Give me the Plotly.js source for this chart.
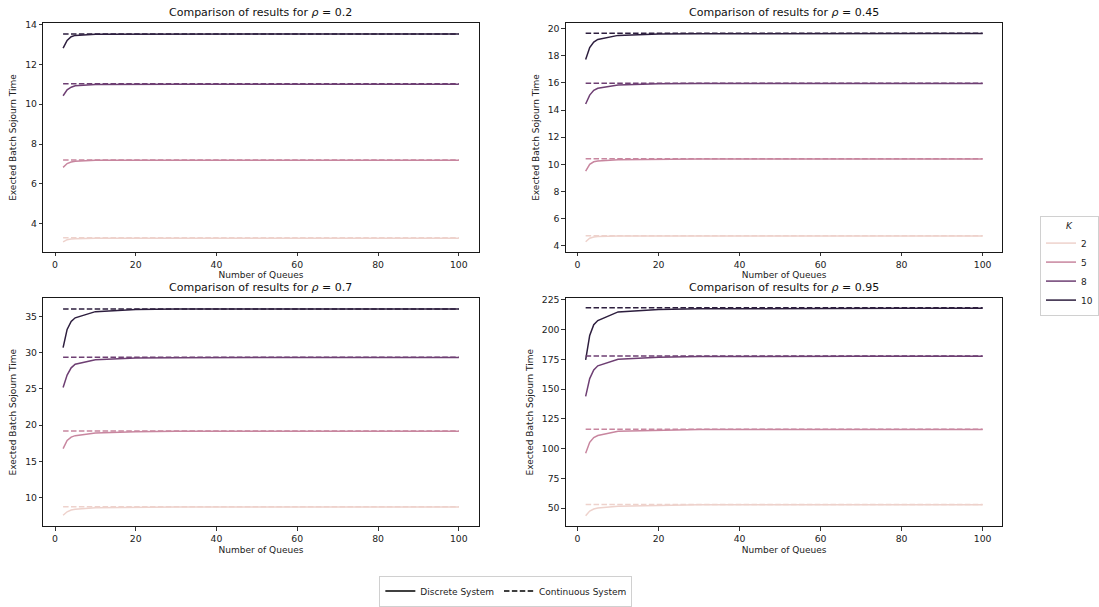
<!DOCTYPE html>
<html>
<head>
<meta charset="utf-8">
<script src="https://cdn.plot.ly/plotly-3.0.1.min.js"></script>
<style>html,body{margin:0;padding:0;background:#fff;}#chart{width:1099px;height:607px;}</style>
</head>
<body>
<div id="chart"></div>
<script>
// ---- data ----
const queues = [2, 3, 4, 5, 10, 20, 30, 40, 50, 60, 70, 80, 90, 100];
const kValues = [2, 5, 8, 10];
const rhoValues = ['0.2', '0.45', '0.7', '0.95'];

// discrete system, per rho, per K
const disc_rho02_K2  = [3.09, 3.20, 3.23, 3.25, 3.27, 3.27, 3.27, 3.27, 3.27, 3.27, 3.27, 3.27, 3.27, 3.27];
const disc_rho02_K5  = [6.83, 7.02, 7.10, 7.14, 7.18, 7.19, 7.19, 7.19, 7.19, 7.19, 7.19, 7.19, 7.19, 7.19];
const disc_rho02_K8  = [10.42, 10.72, 10.85, 10.92, 10.98, 11.00, 11.00, 11.00, 11.00, 11.00, 11.00, 11.00, 11.00, 11.00];
const disc_rho02_K10 = [12.81, 13.20, 13.38, 13.45, 13.51, 13.52, 13.52, 13.52, 13.52, 13.52, 13.52, 13.52, 13.52, 13.52];

const disc_rho045_K2  = [4.29, 4.55, 4.64, 4.68, 4.71, 4.72, 4.72, 4.72, 4.72, 4.72, 4.72, 4.72, 4.72, 4.72];
const disc_rho045_K5  = [9.49, 10.00, 10.18, 10.24, 10.34, 10.38, 10.39, 10.39, 10.39, 10.39, 10.39, 10.39, 10.39, 10.39];
const disc_rho045_K8  = [14.44, 15.10, 15.45, 15.60, 15.85, 15.93, 15.95, 15.95, 15.95, 15.95, 15.95, 15.95, 15.95, 15.95];
const disc_rho045_K10 = [17.72, 18.60, 19.00, 19.20, 19.50, 19.60, 19.62, 19.63, 19.63, 19.63, 19.63, 19.63, 19.63, 19.63];

const disc_rho07_K2  = [7.57, 8.05, 8.30, 8.40, 8.60, 8.68, 8.70, 8.70, 8.71, 8.71, 8.71, 8.71, 8.71, 8.71];
const disc_rho07_K5  = [16.76, 17.90, 18.35, 18.55, 18.90, 19.10, 19.15, 19.16, 19.17, 19.17, 19.17, 19.17, 19.17, 19.17];
const disc_rho07_K8  = [25.2, 26.9, 27.9, 28.4, 29.0, 29.25, 29.30, 29.32, 29.33, 29.33, 29.33, 29.33, 29.33, 29.33];
const disc_rho07_K10 = [30.7, 33.2, 34.3, 34.8, 35.65, 35.95, 36.00, 36.01, 36.02, 36.02, 36.02, 36.02, 36.02, 36.02];

const disc_rho095_K2  = [43.6, 47.5, 49.2, 50.0, 51.6, 52.4, 52.7, 52.8, 52.8, 52.8, 52.8, 52.8, 52.8, 52.8];
const disc_rho095_K5  = [96.1, 105.2, 109.3, 111.0, 114.6, 115.6, 116.0, 116.1, 116.1, 116.1, 116.1, 116.1, 116.1, 116.1];
const disc_rho095_K8  = [143.8, 158.8, 166.0, 169.5, 175.0, 176.8, 177.3, 177.5, 177.6, 177.6, 177.6, 177.6, 177.6, 177.6];
const disc_rho095_K10 = [174.5, 195.0, 204.0, 207.5, 214.8, 216.8, 217.4, 217.6, 217.8, 217.8, 217.8, 217.8, 217.8, 217.8];

// continuous system (constant in number of queues), per rho: K = 2, 5, 8, 10
const cont_rho02  = [3.30, 7.20, 11.02, 13.52];
const cont_rho045 = [4.73, 10.41, 15.97, 19.66];
const cont_rho07  = [8.73, 19.20, 29.37, 36.03];
const cont_rho095 = [53.0, 116.2, 177.8, 218.2];

// ---- style ----
const kColors = ['#eed2cc', '#c8869f', '#6e3f73', '#2d1e3e'];
const FONT = 'DejaVu Sans, sans-serif';

const discByRho = [
  [disc_rho02_K2, disc_rho02_K5, disc_rho02_K8, disc_rho02_K10],
  [disc_rho045_K2, disc_rho045_K5, disc_rho045_K8, disc_rho045_K10],
  [disc_rho07_K2, disc_rho07_K5, disc_rho07_K8, disc_rho07_K10],
  [disc_rho095_K2, disc_rho095_K5, disc_rho095_K8, disc_rho095_K10]
];
const contByRho = [cont_rho02, cont_rho045, cont_rho07, cont_rho095];

const axSuffix = ['', '2', '3', '4'];
const traces = [];
for (let p = 0; p < 4; p++) {
  for (let k = 0; k < kValues.length; k++) {
    traces.push({
      type: 'scatter', mode: 'lines', x: queues, y: discByRho[p][k],
      xaxis: 'x' + axSuffix[p], yaxis: 'y' + axSuffix[p],
      line: {color: kColors[k], width: 1.5}, showlegend: false, hoverinfo: 'x+y'
    });
  }
  for (let k = 0; k < kValues.length; k++) {
    traces.push({
      type: 'scatter', mode: 'lines', x: queues, y: queues.map(() => contByRho[p][k]),
      xaxis: 'x' + axSuffix[p], yaxis: 'y' + axSuffix[p],
      line: {color: kColors[k], width: 1.5, dash: '5.5px,2.4px'}, showlegend: false, hoverinfo: 'x+y'
    });
  }
}
// legend entries (K)
for (let k = 0; k < kValues.length; k++) {
  traces.push({
    type: 'scatter', mode: 'lines', x: [null], y: [null], name: String(kValues[k]),
    line: {color: kColors[k], width: 1.5}, legend: 'legend', showlegend: true
  });
}
// legend entries (system)
traces.push({type: 'scatter', mode: 'lines', x: [null], y: [null], name: 'Discrete System',
  line: {color: '#000', width: 1.5}, legend: 'legend2', showlegend: true});
traces.push({type: 'scatter', mode: 'lines', x: [null], y: [null], name: 'Continuous System',
  line: {color: '#000', width: 1.5, dash: '5.5px,2.4px'}, legend: 'legend2', showlegend: true});

const W = 1099, H = 607;
function px2x(px) { return px / W; }
function px2y(py) { return 1 - py / H; }

const xDomL = [px2x(43.7), px2x(483)];
const xDomR = [px2x(571), px2x(1011.7)];
const yDomT = [px2y(255), px2y(23.3)];
const yDomB = [px2y(532.3), px2y(301.7)];

function xax(domain, anchor) {
  return {
    domain: domain, anchor: anchor, range: [-2.9, 104.9],
    tickvals: [0, 20, 40, 60, 80, 100], ticks: 'outside', ticklen: 3.5, tickwidth: 0.8, tickcolor: '#000',
    showline: true, mirror: true, linecolor: '#000', linewidth: 0.9,
    showgrid: false, zeroline: false,
    tickfont: {family: FONT, size: 9.3, color: '#222'},
    title: {text: 'Number of Queues', font: {family: FONT, size: 9, color: '#222'}, standoff: 3}
  };
}
function yax(domain, anchor, range, tickvals) {
  return {
    domain: domain, anchor: anchor, range: range, tickvals: tickvals,
    ticks: 'outside', ticklen: 3.5, tickwidth: 0.8, tickcolor: '#000',
    showline: true, mirror: true, linecolor: '#000', linewidth: 0.9,
    showgrid: false, zeroline: false,
    tickfont: {family: FONT, size: 9.3, color: '#222'},
    title: {text: 'Exected Batch Sojourn Time', font: {family: FONT, size: 9, color: '#222'}, standoff: 6}
  };
}

const titleYs = [12.5, 12.5, 291, 291];
const titleXs = [(43.7 + 483) / 2, (571 + 1011.7) / 2, (43.7 + 483) / 2, (571 + 1011.7) / 2];
const annotations = rhoValues.map((r, i) => ({
  text: 'Comparison of results for <i>ρ</i> = ' + r,
  xref: 'paper', yref: 'paper', x: px2x(titleXs[i]), y: px2y(titleYs[i]),
  xanchor: 'center', yanchor: 'middle', showarrow: false,
  font: {family: FONT, size: 11, color: '#111'}
}));

const layout = {
  width: W, height: H,
  margin: {l: 0, r: 0, t: 0, b: 0},
  paper_bgcolor: '#fff', plot_bgcolor: '#fff',
  font: {family: FONT},
  xaxis: xax(xDomL, 'y'),
  yaxis: yax(yDomT, 'x', [2.58, 14.07], [4, 6, 8, 10, 12, 14]),
  xaxis2: xax(xDomR, 'y2'),
  yaxis2: yax(yDomT, 'x2', [3.53, 20.41], [4, 6, 8, 10, 12, 14, 16, 18, 20]),
  xaxis3: xax(xDomL, 'y3'),
  yaxis3: yax(yDomB, 'x3', [6.07, 37.5], [10, 15, 20, 25, 30, 35]),
  xaxis4: xax(xDomR, 'y4'),
  yaxis4: yax(yDomB, 'x4', [34.8, 226.3], [50, 75, 100, 125, 150, 175, 200, 225]),
  legend: {
    x: px2x(1050), y: px2y(269), xanchor: 'left', yanchor: 'middle',
    bordercolor: '#d0d0d0', borderwidth: 1, bgcolor: '#fff',
    font: {family: FONT, size: 9, color: '#222'},
    title: {text: '<i>K</i>', side: 'top center', font: {family: FONT, size: 9, color: '#222'}},
    itemwidth: 30, tracegroupgap: 0
  },
  legend2: {
    orientation: 'h', x: px2x(510.5), y: px2y(598), xanchor: 'center', yanchor: 'middle',
    bordercolor: '#d0d0d0', borderwidth: 1, bgcolor: '#fff',
    font: {family: FONT, size: 9, color: '#222'}, itemwidth: 30
  },
  annotations: annotations,
  showlegend: true
};

Plotly.newPlot('chart', traces, layout, {displayModeBar: false, staticPlot: true});
</script>
</body>
</html>
